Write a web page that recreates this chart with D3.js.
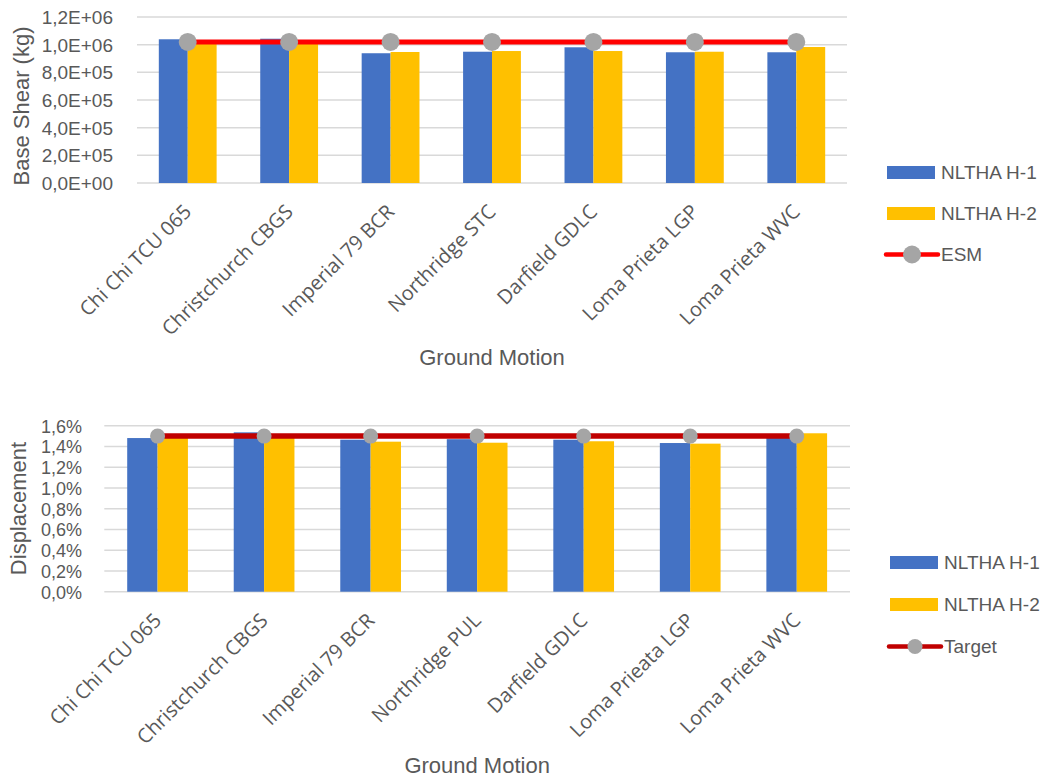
<!DOCTYPE html>
<html>
<head>
<meta charset="utf-8">
<script src="https://cdn.jsdelivr.net/npm/d3@7"></script>
<style>
  html, body { margin: 0; padding: 0; background: #fff; }
  svg { display: block; }
</style>
</head>
<body>
<svg id="chart" width="1044" height="779"></svg>
<script>
// ---- Base shear chart data ----
const shearCategories = ["Chi Chi TCU 065", "Christchurch CBGS", "Imperial 79 BCR", "Northridge STC", "Darfield GDLC", "Loma Prieta LGP", "Loma Prieta WVC"];
const shearH1 = [1.039e6, 1.043e6, 0.938e6, 0.949e6, 0.981e6, 0.945e6, 0.945e6];
const shearH2 = [1.010e6, 1.010e6, 0.947e6, 0.954e6, 0.954e6, 0.949e6, 0.983e6];
const shearESM = [1.02e6, 1.02e6, 1.02e6, 1.02e6, 1.02e6, 1.02e6, 1.02e6];
const shearTicks = [0, 2e5, 4e5, 6e5, 8e5, 1.0e6, 1.2e6];

// ---- Displacement chart data ----
const dispCategories = ["Chi Chi TCU 065", "Christchurch CBGS", "Imperial 79 BCR", "Northridge PUL", "Darfield GDLC", "Loma Prieata LGP", "Loma Prieta WVC"];
const dispH1 = [0.01481, 0.01536, 0.01465, 0.01470, 0.01465, 0.01433, 0.01490];
const dispH2 = [0.01510, 0.01490, 0.01446, 0.01436, 0.01450, 0.01427, 0.01527];
const dispTarget = [0.015, 0.015, 0.015, 0.015, 0.015, 0.015, 0.015];
const dispTicks = [0, 0.002, 0.004, 0.006, 0.008, 0.010, 0.012, 0.014, 0.016];

const seriesNames = ["NLTHA H-1", "NLTHA H-2"];
const barColors = ["#4472C4", "#FFC000"];
const textColor = "#595959";
const gridColor = "#D9D9D9";
const catFont = "'Open Sans', sans-serif";
const titleFont = "'Liberation Sans', Arial, sans-serif";

const svg = d3.select("#chart");

// Scientific format with decimal comma: 1,2E+06
function sciFormat(v) {
  if (v === 0) return "0,0E+00";
  const [m, e] = v.toExponential(1).split("e");
  const ex = parseInt(e, 10);
  return m.replace(".", ",") + "E" + (ex < 0 ? "-" : "+") + String(Math.abs(ex)).padStart(2, "0");
}
function pctFormat(v) {
  return (v * 100).toFixed(1).replace(".", ",") + "%";
}

function drawChart(cfg) {
  const g = svg.append("g");
  const x0 = d3.scaleBand().domain(cfg.categories).range([cfg.left, cfg.right])
    .paddingInner(0.43).paddingOuter(0.215);
  const x1 = d3.scaleBand().domain(seriesNames).range([0, x0.bandwidth()]).padding(0);
  const y = d3.scaleLinear().domain(cfg.yDomain).range([cfg.bottom, cfg.top]);

  // gridlines
  g.append("g").selectAll("line").data(cfg.ticks).join("line")
    .attr("x1", cfg.left).attr("x2", cfg.right)
    .attr("y1", d => y(d)).attr("y2", d => y(d))
    .attr("stroke", gridColor).attr("stroke-width", 1.5);

  // y-axis tick labels
  const yAxis = d3.axisLeft(y).tickValues(cfg.ticks).tickFormat(cfg.format).tickSize(0).tickPadding(0);
  const ya = g.append("g").attr("transform", `translate(${cfg.tickX},0)`).call(yAxis);
  ya.select(".domain").remove();
  ya.selectAll("text").attr("font-family", titleFont).attr("font-size", cfg.tickSize)
    .attr("fill", textColor).attr("dy", "0.35em");

  // bars
  const series = [cfg.h1, cfg.h2];
  const groups = g.append("g").selectAll("g").data(cfg.categories).join("g")
    .attr("transform", d => `translate(${x0(d)},0)`);
  groups.selectAll("rect").data((d, i) => seriesNames.map((s, k) => ({ s, v: series[k][i], k })))
    .join("rect")
    .attr("x", d => x1(d.s)).attr("width", x1.bandwidth())
    .attr("y", d => y(d.v)).attr("height", d => y(0) - y(d.v))
    .attr("fill", d => barColors[d.k]);

  // reference line with markers
  const pts = cfg.categories.map((c, i) => [x0(c) + x0.bandwidth() / 2, y(cfg.line[i])]);
  g.append("path").attr("d", d3.line()(pts)).attr("fill", "none")
    .attr("stroke", cfg.lineColor).attr("stroke-width", cfg.lineWidth);
  g.append("g").selectAll("circle").data(pts).join("circle")
    .attr("cx", d => d[0]).attr("cy", d => d[1]).attr("r", cfg.markerR).attr("fill", "#A5A5A5");

  // category labels (rotated)
  const xa = g.append("g").attr("transform", `translate(0,${cfg.bottom})`)
    .call(d3.axisBottom(x0).tickSize(0).tickPadding(0));
  xa.select(".domain").remove();
  xa.selectAll("text")
    .attr("font-family", catFont).attr("font-size", cfg.catSize).attr("fill", textColor)
    .attr("text-anchor", "end").attr("dy", null).attr("y", null)
    .attr("transform", `translate(${cfg.catDx},${cfg.catDy}) rotate(-45)`);

  // axis titles
  g.append("text").attr("x", (cfg.left + cfg.right) / 2).attr("y", cfg.xTitleY)
    .attr("text-anchor", "middle").attr("font-family", titleFont).attr("font-size", 22)
    .attr("fill", textColor).text("Ground Motion");
  g.append("text").attr("transform", `translate(${cfg.yTitleX},${cfg.yTitleY}) rotate(-90)`)
    .attr("text-anchor", "middle").attr("font-family", titleFont).attr("font-size", 22)
    .attr("fill", textColor).text(cfg.yTitle);

  // legend
  const lg = g.append("g").attr("transform", `translate(${cfg.legX},${cfg.legY})`);
  seriesNames.forEach((s, k) => {
    lg.append("rect").attr("x", 0).attr("y", k * cfg.legStep - 6.5).attr("width", 48).attr("height", 13)
      .attr("fill", barColors[k]);
    lg.append("text").attr("x", 54).attr("y", k * cfg.legStep).attr("dy", "0.35em")
      .attr("font-family", titleFont).attr("font-size", 19).attr("fill", textColor).text(s);
  });
  const ly = 2 * cfg.legStep;
  lg.append("line").attr("x1", -1).attr("x2", 51).attr("y1", ly).attr("y2", ly)
    .attr("stroke", cfg.lineColor).attr("stroke-width", 4.5).attr("stroke-linecap", "round");
  lg.append("circle").attr("cx", 25).attr("cy", ly).attr("r", cfg.markerR).attr("fill", "#A5A5A5");
  lg.append("text").attr("x", 54).attr("y", ly).attr("dy", "0.35em")
    .attr("font-family", titleFont).attr("font-size", 19).attr("fill", textColor).text(cfg.lineName);
}

drawChart({
  categories: shearCategories, h1: shearH1, h2: shearH2, line: shearESM,
  ticks: shearTicks, yDomain: [0, 1.2e6], format: sciFormat,
  left: 137, right: 847, top: 17, bottom: 183,
  tickX: 113, tickSize: 19, catSize: 20, catDx: 5, catDy: 30,
  lineColor: "#FF0000", lineWidth: 5, markerR: 9,
  xTitleY: 365, yTitleX: 29, yTitleY: 106, yTitle: "Base Shear (kg)",
  legX: 887, legY: 172.5, legStep: 41, lineName: "ESM"
});

drawChart({
  categories: dispCategories, h1: dispH1, h2: dispH2, line: dispTarget,
  ticks: dispTicks, yDomain: [0, 0.016], format: pctFormat,
  left: 104.3, right: 850, top: 425.7, bottom: 591.7,
  tickX: 82, tickSize: 18, catSize: 20, catDx: 5, catDy: 30,
  lineColor: "#C00000", lineWidth: 5.5, markerR: 7.5,
  xTitleY: 773, yTitleX: 26, yTitleY: 508.5, yTitle: "Displacement",
  legX: 890, legY: 562.5, legStep: 42, lineName: "Target"
});
</script>
</body>
</html>
